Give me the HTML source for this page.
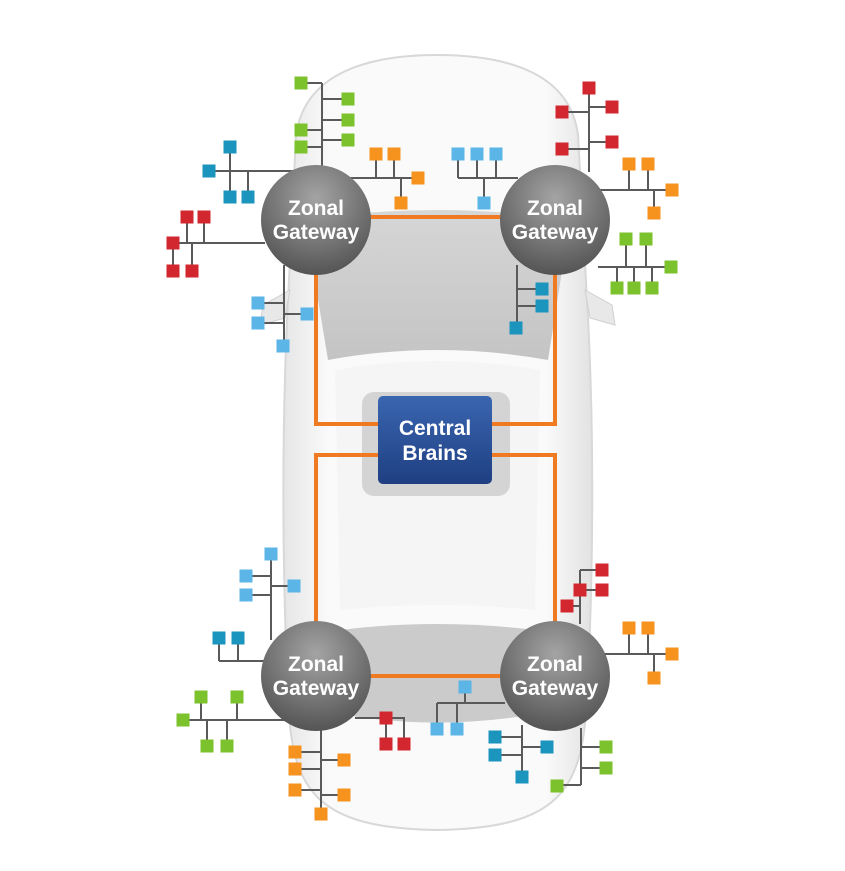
<!DOCTYPE html>
<html><head><meta charset="utf-8"><style>
html,body{margin:0;padding:0;background:#fff;}
svg{display:block;}
text{font-family:"Liberation Sans","DejaVu Sans",sans-serif;font-weight:bold;fill:#fff;text-anchor:middle;}
</style></head><body>
<svg width="845" height="871" viewBox="0 0 845 871" xmlns="http://www.w3.org/2000/svg">
<defs>
<radialGradient id="cg" cx="50%" cy="30%" r="75%"><stop offset="0" stop-color="#a4a4a4"/><stop offset="1" stop-color="#4f4f4f"/></radialGradient>
<linearGradient id="bg" x1="0" y1="0" x2="0" y2="1"><stop offset="0" stop-color="#3a66b0"/><stop offset="1" stop-color="#1f3f82"/></linearGradient>
<linearGradient id="car" x1="0" y1="0" x2="1" y2="0"><stop offset="0" stop-color="#e6e6e6"/><stop offset="0.15" stop-color="#fafafa"/><stop offset="0.85" stop-color="#fafafa"/><stop offset="1" stop-color="#e2e2e2"/></linearGradient>
<linearGradient id="win" x1="0" y1="0" x2="0" y2="1"><stop offset="0" stop-color="#d6d6d6"/><stop offset="1" stop-color="#c4c4c4"/></linearGradient>
</defs>
<!-- car body -->
<path d="M296,135 C305,72 370,55 437,55 C505,55 570,72 578,135 L587,300 C594,420 594,560 587,700 C582,790 560,828 437,830 C315,828 292,790 288,700 C282,560 282,420 288,300 Z" fill="url(#car)" stroke="#d8d8d8" stroke-width="2"/>
<path d="M585,290 L612,305 L615,325 L590,318 Z" fill="#e8e8e8" stroke="#d0d0d0"/>
<path d="M290,290 L263,305 L260,325 L285,318 Z" fill="#e8e8e8" stroke="#d0d0d0"/>
<path d="M305,220 Q437,200 570,220 L548,360 Q437,340 328,360 Z" fill="url(#win)"/>
<path d="M335,370 Q437,352 540,370 L535,610 Q437,600 340,610 Z" fill="#f5f5f5"/>
<rect x="362" y="392" width="148" height="104" rx="12" fill="#d4d4d4"/>
<path d="M340,630 Q437,618 535,630 L530,715 Q437,730 345,715 Z" fill="#cbcbcb"/>
<!-- orange network -->
<g stroke="#f07a22" stroke-width="4" fill="none">
<path d="M316,217 L555,217"/>
<path d="M316,217 L316,424 L380,424"/>
<path d="M555,217 L555,424 L490,424"/>
<path d="M380,455 L316,455 L316,676"/>
<path d="M490,455 L555,455 L555,676"/>
<path d="M316,676 L555,676"/>
</g>
<!-- grey tree lines -->
<g stroke="#5a5a5a" stroke-width="2" fill="none">
<path d="M322,83 L322,170 M301,83 L322,83 M322,99 L348,99 M322,120 L348,120 M301,130 L322,130 M322,140 L348,140 M301,147 L322,147"/>
<path d="M209,171 L295,171 M230,147 L230,197 M248,171 L248,197"/>
<path d="M343,178 L418,178 M376,154 L376,178 M394,154 L394,178 M401,178 L401,203"/>
<path d="M173,243 L265,243 M187,217 L187,243 M204,217 L204,243 M173,243 L173,271 M192,243 L192,271"/>
<path d="M284,265 L284,346 M258,303 L284,303 M258,323 L284,323 M284,314 L307,314"/>
<path d="M589,88 L589,172 M589,107 L612,107 M562,112 L589,112 M589,142 L612,142 M562,149 L589,149"/>
<path d="M458,178 L518,178 M458,154 L458,178 M477,154 L477,178 M496,154 L496,178 M484,178 L484,203"/>
<path d="M597,190 L672,190 M629,164 L629,190 M648,164 L648,190 M654,190 L654,213"/>
<path d="M598,267 L671,267 M626,239 L626,267 M646,239 L646,267 M617,267 L617,288 M634,267 L634,288 M652,267 L652,288"/>
<path d="M517,265 L517,328 M517,289 L542,289 M517,306 L542,306"/>
<path d="M271,554 L271,640 M246,576 L271,576 M271,586 L294,586 M246,595 L271,595"/>
<path d="M219,661 L265,661 M219,638 L219,661 M238,638 L238,661"/>
<path d="M183,720 L290,720 M201,697 L201,720 M237,697 L237,720 M207,720 L207,746 M227,720 L227,746"/>
<path d="M321,728 L321,814 M295,752 L321,752 M321,760 L344,760 M295,769 L321,769 M295,790 L321,790 M321,795 L344,795"/>
<path d="M355,718 L404,718 L404,744 M386,718 L386,744"/>
<path d="M437,703 L505,703 M465,687 L465,703 M437,703 L437,729 M457,703 L457,729"/>
<path d="M580,570 L580,624 M580,570 L602,570 M580,590 L602,590 M567,606 L580,606"/>
<path d="M597,654 L672,654 M629,628 L629,654 M648,628 L648,654 M654,654 L654,678"/>
<path d="M522,725 L522,777 M495,737 L522,737 M522,747 L547,747 M495,755 L522,755"/>
<path d="M581,728 L581,785 M581,747 L606,747 M581,768 L606,768 M557,785 L581,785"/>
</g>
<!-- squares -->
<g fill="#7cc22c">
<rect x="294.5" y="76.5" width="13" height="13"/><rect x="341.5" y="92.5" width="13" height="13"/><rect x="341.5" y="113.5" width="13" height="13"/><rect x="294.5" y="123.5" width="13" height="13"/><rect x="341.5" y="133.5" width="13" height="13"/><rect x="294.5" y="140.5" width="13" height="13"/>
<rect x="619.5" y="232.5" width="13" height="13"/><rect x="639.5" y="232.5" width="13" height="13"/><rect x="664.5" y="260.5" width="13" height="13"/><rect x="610.5" y="281.5" width="13" height="13"/><rect x="627.5" y="281.5" width="13" height="13"/><rect x="645.5" y="281.5" width="13" height="13"/>
<rect x="194.5" y="690.5" width="13" height="13"/><rect x="230.5" y="690.5" width="13" height="13"/><rect x="176.5" y="713.5" width="13" height="13"/><rect x="200.5" y="739.5" width="13" height="13"/><rect x="220.5" y="739.5" width="13" height="13"/>
<rect x="599.5" y="740.5" width="13" height="13"/><rect x="599.5" y="761.5" width="13" height="13"/><rect x="550.5" y="779.5" width="13" height="13"/>
</g>
<g fill="#1b94be">
<rect x="223.5" y="140.5" width="13" height="13"/><rect x="202.5" y="164.5" width="13" height="13"/><rect x="223.5" y="190.5" width="13" height="13"/><rect x="241.5" y="190.5" width="13" height="13"/>
<rect x="535.5" y="282.5" width="13" height="13"/><rect x="535.5" y="299.5" width="13" height="13"/><rect x="509.5" y="321.5" width="13" height="13"/>
<rect x="212.5" y="631.5" width="13" height="13"/><rect x="231.5" y="631.5" width="13" height="13"/>
<rect x="488.5" y="730.5" width="13" height="13"/><rect x="488.5" y="748.5" width="13" height="13"/><rect x="540.5" y="740.5" width="13" height="13"/><rect x="515.5" y="770.5" width="13" height="13"/>
</g>
<g fill="#5bb5e6">
<rect x="251.5" y="296.5" width="13" height="13"/><rect x="251.5" y="316.5" width="13" height="13"/><rect x="300.5" y="307.5" width="13" height="13"/><rect x="276.5" y="339.5" width="13" height="13"/>
<rect x="451.5" y="147.5" width="13" height="13"/><rect x="470.5" y="147.5" width="13" height="13"/><rect x="489.5" y="147.5" width="13" height="13"/><rect x="477.5" y="196.5" width="13" height="13"/>
<rect x="264.5" y="547.5" width="13" height="13"/><rect x="239.5" y="569.5" width="13" height="13"/><rect x="287.5" y="579.5" width="13" height="13"/><rect x="239.5" y="588.5" width="13" height="13"/>
<rect x="458.5" y="680.5" width="13" height="13"/><rect x="430.5" y="722.5" width="13" height="13"/><rect x="450.5" y="722.5" width="13" height="13"/>
</g>
<g fill="#f6921e">
<rect x="369.5" y="147.5" width="13" height="13"/><rect x="387.5" y="147.5" width="13" height="13"/><rect x="411.5" y="171.5" width="13" height="13"/><rect x="394.5" y="196.5" width="13" height="13"/>
<rect x="622.5" y="157.5" width="13" height="13"/><rect x="641.5" y="157.5" width="13" height="13"/><rect x="665.5" y="183.5" width="13" height="13"/><rect x="647.5" y="206.5" width="13" height="13"/>
<rect x="288.5" y="745.5" width="13" height="13"/><rect x="337.5" y="753.5" width="13" height="13"/><rect x="288.5" y="762.5" width="13" height="13"/><rect x="288.5" y="783.5" width="13" height="13"/><rect x="337.5" y="788.5" width="13" height="13"/><rect x="314.5" y="807.5" width="13" height="13"/>
<rect x="622.5" y="621.5" width="13" height="13"/><rect x="641.5" y="621.5" width="13" height="13"/><rect x="665.5" y="647.5" width="13" height="13"/><rect x="647.5" y="671.5" width="13" height="13"/>
</g>
<g fill="#d2272f">
<rect x="180.5" y="210.5" width="13" height="13"/><rect x="197.5" y="210.5" width="13" height="13"/><rect x="166.5" y="236.5" width="13" height="13"/><rect x="166.5" y="264.5" width="13" height="13"/><rect x="185.5" y="264.5" width="13" height="13"/>
<rect x="582.5" y="81.5" width="13" height="13"/><rect x="605.5" y="100.5" width="13" height="13"/><rect x="555.5" y="105.5" width="13" height="13"/><rect x="605.5" y="135.5" width="13" height="13"/><rect x="555.5" y="142.5" width="13" height="13"/>
<rect x="379.5" y="711.5" width="13" height="13"/><rect x="379.5" y="737.5" width="13" height="13"/><rect x="397.5" y="737.5" width="13" height="13"/>
<rect x="595.5" y="563.5" width="13" height="13"/><rect x="573.5" y="583.5" width="13" height="13"/><rect x="595.5" y="583.5" width="13" height="13"/><rect x="560.5" y="599.5" width="13" height="13"/>
</g>
<g>
<circle cx="316" cy="220" r="55" fill="url(#cg)"/>
<circle cx="555" cy="220" r="55" fill="url(#cg)"/>
<circle cx="316" cy="676" r="55" fill="url(#cg)"/>
<circle cx="555" cy="676" r="55" fill="url(#cg)"/>
</g>
<g font-size="21">
<text x="316" y="215">Zonal</text><text x="316" y="239">Gateway</text>
<text x="555" y="215">Zonal</text><text x="555" y="239">Gateway</text>
<text x="316" y="671">Zonal</text><text x="316" y="695">Gateway</text>
<text x="555" y="671">Zonal</text><text x="555" y="695">Gateway</text>
</g>
<rect x="378" y="396" width="114" height="88" rx="5" fill="url(#bg)"/>
<text x="435" y="435" font-size="21">Central</text>
<text x="435" y="460" font-size="21">Brains</text>
</svg>
</body></html>
